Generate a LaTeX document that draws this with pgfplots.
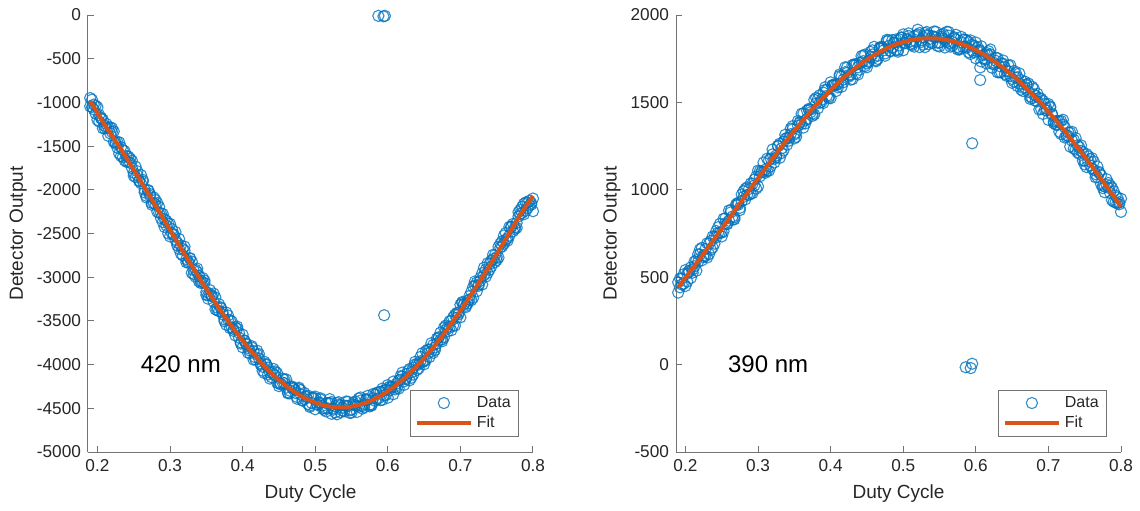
\documentclass[border=0pt]{standalone}
\usepackage{pgfplots}
\pgfplotsset{compat=1.18}
\usepackage{pgfplotstable}
\usepackage{fontspec}
\setmainfont{Liberation Sans}
\definecolor{mblue}{rgb}{0,0.447,0.741}
\definecolor{morange}{rgb}{0.85,0.325,0.098}
\definecolor{txt}{rgb}{0.15,0.15,0.15}
\definecolor{axc}{rgb}{0.45,0.45,0.45}

\pgfplotstableread{
x a b
0.190 -950 -1045
0.195 -1080 -1025
0.200 -1055 -1200
0.205 -1185 -1175
0.210 -1297 -1267
0.215 -1288 -1383
0.220 -1294 -1339
0.225 -1457 -1472
0.230 -1456 -1586
0.235 -1625 -1545
0.240 -1615 -1680
0.245 -1642 -1692
0.250 -1805 -1840
0.255 -1833 -1788
0.260 -1831 -1926
0.265 -2000 -2030
0.270 -2003 -2013
0.275 -2172 -2152
0.280 -2166 -2116
0.285 -2195 -2265
0.290 -2275 -2370
0.295 -2410 -2355
0.300 -2389 -2534
0.305 -2518 -2508
0.310 -2637 -2607
0.315 -2636 -2731
0.320 -2650 -2695
0.325 -2818 -2833
0.330 -2821 -2951
0.335 -2993 -2913
0.340 -2984 -3049
0.345 -3009 -3059
0.350 -3169 -3204
0.355 -3193 -3148
0.360 -3186 -3281
0.365 -3348 -3378
0.370 -3345 -3355
0.375 -3504 -3484
0.380 -3488 -3438
0.385 -3505 -3575
0.390 -3572 -3667
0.395 -3692 -3637
0.400 -3657 -3802
0.405 -3769 -3759
0.410 -3870 -3840
0.415 -3848 -3943
0.420 -3841 -3886
0.425 -3987 -4002
0.430 -3967 -4097
0.435 -4114 -4034
0.440 -4080 -4145
0.445 -4078 -4128
0.450 -4211 -4246
0.455 -4205 -4160
0.460 -4169 -4264
0.465 -4299 -4329
0.470 -4264 -4274
0.475 -4391 -4371
0.480 -4342 -4292
0.485 -4324 -4394
0.490 -4355 -4450
0.495 -4438 -4383
0.500 -4366 -4511
0.505 -4439 -4429
0.510 -4502 -4472
0.515 -4441 -4536
0.520 -4395 -4440
0.525 -4500 -4515
0.530 -4439 -4569
0.535 -4545 -4465
0.540 -4469 -4534
0.545 -4425 -4475
0.550 -4515 -4550
0.555 -4466 -4421
0.560 -4387 -4482
0.565 -4474 -4504
0.570 -4396 -4406
0.575 -4478 -4458
0.580 -4385 -4335
0.585 -4324 -4394
0.590 -4312 -4407
0.595 -4351 -4296
0.600 -4234 -4379
0.605 -4264 -4254
0.610 -4284 -4254
0.615 -4180 -4275
0.620 -4091 -4136
0.625 -4153 -4168
0.630 -4050 -4180
0.635 -4114 -4034
0.640 -3997 -4062
0.645 -3912 -3962
0.650 -3961 -3996
0.655 -3873 -3828
0.660 -3755 -3850
0.665 -3804 -3834
0.670 -3687 -3697
0.675 -3732 -3712
0.680 -3602 -3552
0.685 -3505 -3575
0.690 -3458 -3553
0.695 -3464 -3409
0.700 -3315 -3460
0.705 -3313 -3303
0.710 -3301 -3271
0.715 -3168 -3263
0.720 -3049 -3094
0.725 -3084 -3099
0.730 -2954 -3084
0.735 -2993 -2913
0.740 -2851 -2916
0.745 -2743 -2793
0.750 -2770 -2805
0.755 -2661 -2616
0.760 -2522 -2617
0.765 -2553 -2583
0.770 -2419 -2429
0.775 -2450 -2430
0.780 -2305 -2255
0.785 -2195 -2265
0.790 -2145 -2240
0.795 -2180 -2125
0.800 -2100 -2245
}\leftdata

\pgfplotstableread{
x c d
0.1925 -968 -1053
0.1975 -1128 -1038
0.2025 -1145 -1220
0.2075 -1296 -1196
0.2125 -1248 -1293
0.2175 -1354 -1284
0.2225 -1331 -1451
0.2275 -1519 -1454
0.2325 -1513 -1613
0.2375 -1663 -1558
0.2425 -1619 -1679
0.2475 -1751 -1666
0.2525 -1734 -1854
0.2575 -1902 -1897
0.2625 -1906 -1886
0.2675 -2089 -2069
0.2725 -2068 -2048
0.2775 -2087 -2152
0.2825 -2251 -2151
0.2875 -2270 -2325
0.2925 -2425 -2335
0.2975 -2385 -2500
0.3025 -2499 -2449
0.3075 -2483 -2573
0.3125 -2677 -2562
0.3175 -2676 -2751
0.3225 -2829 -2794
0.3275 -2787 -2782
0.3325 -2920 -2965
0.3375 -2901 -2941
0.3425 -3067 -3042
0.3475 -3067 -3037
0.3525 -3246 -3206
0.3575 -3220 -3210
0.3625 -3232 -3367
0.3675 -3389 -3309
0.3725 -3400 -3425
0.3775 -3544 -3404
0.3825 -3492 -3582
0.3875 -3594 -3614
0.3925 -3565 -3590
0.3975 -3745 -3760
0.4025 -3728 -3723
0.4075 -3865 -3810
0.4125 -3804 -3789
0.4175 -3917 -3942
0.4225 -3879 -3929
0.4275 -4025 -4070
0.4325 -4003 -3993
0.4375 -4160 -4090
0.4425 -4109 -4049
0.4475 -4097 -4207
0.4525 -4228 -4218
0.4575 -4212 -4172
0.4625 -4329 -4319
0.4675 -4249 -4259
0.4725 -4323 -4290
0.4775 -4264 -4279
0.4825 -4413 -4408
0.4875 -4365 -4370
0.4925 -4469 -4484
0.4975 -4377 -4382
0.5025 -4458 -4453
0.5075 -4386 -4400
0.5125 -4497 -4517
0.5175 -4441 -4501
0.5225 -4563 -4428
0.5275 -4477 -4547
0.5325 -4430 -4460
0.5375 -4525 -4495
0.5425 -4472 -4422
0.5475 -4553 -4523
0.5525 -4436 -4456
0.5575 -4472 -4542
0.5625 -4376 -4411
0.5675 -4488 -4453
0.5725 -4402 -4357
0.5775 -4469 -4459
0.5825 -4340 -4415
0.5875 -4383 -4313
0.5925 -4274 -4404
0.5975 -4348 -4288
0.6025 -4254 -4294
0.6075 -4339 -4194
0.6125 -4217 -4267
0.6175 -4133 -4173
0.6225 -4192 -4232
0.6275 -4104 -4074
0.6325 -4150 -4090
0.6375 -3998 -3968
0.6425 -4000 -4045
0.6475 -3869 -3974
0.6525 -3947 -3847
0.6575 -3829 -3914
0.6625 -3865 -3775
0.6675 -3703 -3758
0.6725 -3715 -3635
0.6775 -3575 -3685
0.6825 -3619 -3569
0.6875 -3497 -3607
0.6925 -3554 -3429
0.6975 -3405 -3425
0.7025 -3294 -3284
0.7075 -3327 -3342
0.7125 -3215 -3255
0.7175 -3236 -3111
0.7225 -3062 -3162
0.7275 -3042 -3007
0.7325 -2891 -2976
0.7375 -2950 -2840
0.7425 -2812 -2877
0.7475 -2829 -2749
0.7525 -2651 -2776
0.7575 -2647 -2587
0.7625 -2493 -2573
0.7675 -2524 -2424
0.7725 -2390 -2475
0.7775 -2435 -2380
0.7825 -2275 -2230
0.7875 -2160 -2280
0.7925 -2210 -2145
0.7975 -2150 -2170
}\leftdatab

\pgfplotstableread{
x y
0.19 -985
0.20 -1120
0.21 -1257
0.22 -1379
0.23 -1506
0.24 -1635
0.25 -1770
0.26 -1906
0.27 -2043
0.28 -2181
0.29 -2320
0.30 -2459
0.31 -2597
0.32 -2735
0.33 -2871
0.34 -3004
0.35 -3134
0.36 -3261
0.37 -3385
0.38 -3503
0.39 -3617
0.40 -3727
0.41 -3830
0.42 -3926
0.43 -4017
0.44 -4100
0.45 -4176
0.46 -4244
0.47 -4304
0.48 -4357
0.49 -4400
0.50 -4436
0.51 -4462
0.52 -4480
0.53 -4489
0.54 -4489
0.55 -4480
0.56 -4462
0.57 -4436
0.58 -4400
0.59 -4357
0.60 -4304
0.61 -4244
0.62 -4176
0.63 -4100
0.64 -4017
0.65 -3926
0.66 -3830
0.67 -3727
0.68 -3617
0.69 -3503
0.70 -3385
0.71 -3261
0.72 -3134
0.73 -3004
0.74 -2871
0.75 -2735
0.76 -2597
0.77 -2459
0.78 -2320
0.79 -2190
0.80 -2070
}\leftfit

\pgfplotstableread{
x a b
0.190 471 412
0.195 458 492
0.200 541 450
0.205 530 536
0.210 526 545
0.215 597 537
0.220 659 631
0.225 625 615
0.230 694 613
0.235 657 707
0.240 732 692
0.245 786 754
0.250 755 733
0.255 809 837
0.260 882 823
0.265 848 830
0.270 918 912
0.275 884 897
0.280 960 992
0.285 1014 971
0.290 1037 978
0.295 1025 1059
0.300 1110 1019
0.305 1100 1106
0.310 1097 1116
0.315 1169 1109
0.320 1231 1203
0.325 1196 1186
0.330 1264 1183
0.335 1225 1275
0.340 1298 1258
0.345 1350 1318
0.350 1316 1294
0.355 1366 1394
0.360 1435 1376
0.365 1397 1379
0.370 1463 1457
0.375 1423 1436
0.380 1494 1526
0.385 1541 1498
0.390 1556 1497
0.395 1538 1572
0.400 1615 1524
0.405 1597 1603
0.410 1586 1605
0.415 1649 1589
0.420 1701 1673
0.425 1657 1647
0.430 1714 1633
0.435 1665 1715
0.440 1727 1687
0.445 1768 1736
0.450 1723 1701
0.455 1761 1789
0.460 1818 1759
0.465 1767 1749
0.470 1819 1813
0.475 1767 1780
0.480 1824 1856
0.485 1857 1814
0.490 1860 1801
0.495 1826 1860
0.500 1889 1798
0.505 1856 1862
0.510 1831 1850
0.515 1879 1819
0.520 1916 1888
0.525 1856 1846
0.530 1897 1816
0.535 1833 1883
0.540 1879 1839
0.545 1904 1872
0.550 1842 1820
0.555 1864 1892
0.560 1904 1845
0.565 1837 1819
0.570 1873 1867
0.575 1803 1816
0.580 1843 1875
0.585 1860 1817
0.590 1846 1787
0.595 1796 1830
0.600 1843 1752
0.605 1794 1800
0.610 1751 1770
0.615 1782 1722
0.620 1803 1775
0.625 1727 1717
0.630 1753 1672
0.635 1672 1722
0.640 1702 1662
0.645 1711 1679
0.650 1634 1612
0.655 1641 1669
0.660 1666 1607
0.665 1583 1565
0.670 1604 1598
0.675 1520 1533
0.680 1546 1578
0.685 1549 1506
0.690 1521 1462
0.695 1458 1492
0.700 1491 1400
0.705 1429 1435
0.710 1373 1392
0.715 1392 1332
0.720 1401 1373
0.725 1313 1303
0.730 1328 1247
0.735 1236 1286
0.740 1255 1215
0.745 1254 1222
0.750 1167 1145
0.755 1164 1192
0.760 1181 1122
0.765 1089 1071
0.770 1102 1096
0.775 1010 1023
0.780 1029 1061
0.785 1025 982
0.790 991 932
0.795 922 956
0.800 949 874
}\rightdata

\pgfplotstableread{
x c d
0.1925 493 442
0.1975 463 517
0.2025 520 475
0.2075 496 556
0.2125 589 562
0.2175 589 631
0.2225 668 596
0.2275 622 661
0.2325 692 632
0.2375 670 733
0.2425 764 728
0.2475 754 805
0.2525 834 762
0.2575 803 806
0.2625 871 883
0.2675 831 843
0.2725 914 926
0.2775 973 934
0.2825 945 1005
0.2875 1004 971
0.2925 981 1035
0.2975 1076 1007
0.3025 1077 1107
0.3075 1156 1102
0.3125 1109 1178
0.3175 1179 1134
0.3225 1156 1177
0.3275 1249 1252
0.3325 1237 1210
0.3375 1315 1291
0.3425 1281 1296
0.3475 1346 1364
0.3525 1303 1327
0.3575 1382 1388
0.3625 1437 1356
0.3675 1405 1453
0.3725 1459 1444
0.3775 1431 1515
0.3825 1520 1466
0.3875 1515 1503
0.3925 1587 1572
0.3975 1534 1525
0.4025 1596 1599
0.4075 1565 1598
0.4125 1651 1660
0.4175 1630 1615
0.4225 1699 1669
0.4275 1657 1630
0.4325 1712 1718
0.4375 1659 1701
0.4425 1729 1765
0.4475 1774 1708
0.4525 1731 1737
0.4575 1774 1798
0.4625 1735 1741
0.4675 1813 1807
0.4725 1797 1812
0.4775 1858 1849
0.4825 1792 1795
0.4875 1843 1840
0.4925 1799 1790
0.4975 1872 1869
0.5025 1839 1842
0.5075 1895 1880
0.5125 1840 1828
0.5175 1883 1847
0.5225 1816 1897
0.5275 1872 1830
0.5325 1903 1885
0.5375 1846 1864
0.5425 1876 1906
0.5475 1823 1841
0.5525 1887 1875
0.5575 1856 1814
0.5625 1903 1882
0.5675 1824 1845
0.5725 1860 1887
0.5775 1802 1808
0.5825 1860 1815
0.5875 1813 1855
0.5925 1855 1777
0.5975 1786 1822
0.6025 1815 1791
0.6075 1734 1821
0.6125 1776 1746
0.6175 1793 1769
0.6225 1722 1698
0.6275 1738 1756
0.6325 1672 1708
0.6375 1722 1740
0.6425 1679 1652
0.6475 1713 1650
0.6525 1620 1680
0.6575 1644 1593
0.6625 1573 1627
0.6675 1619 1586
0.6725 1560 1608
0.6775 1590 1524
0.6825 1508 1538
0.6875 1525 1459
0.6925 1434 1509
0.6975 1465 1453
0.7025 1471 1477
0.7075 1390 1381
0.7125 1395 1371
0.7175 1319 1394
0.7225 1359 1299
0.7275 1307 1328
0.7325 1332 1281
0.7375 1230 1296
0.7425 1245 1206
0.7475 1167 1215
0.7525 1205 1130
0.7575 1139 1175
0.7625 1162 1114
0.7675 1073 1133
0.7725 1084 1033
0.7775 986 1019
0.7825 1012 1039
0.7875 1013 941
0.7925 928 967
0.7975 929 917
}\rightdatab

\pgfplotstableread{
x y
0.19 443
0.20 497
0.21 551
0.22 606
0.23 663
0.24 720
0.25 777
0.26 835
0.27 893
0.28 951
0.29 1009
0.30 1066
0.31 1122
0.32 1178
0.33 1233
0.34 1286
0.35 1338
0.36 1388
0.37 1438
0.38 1485
0.39 1528
0.40 1571
0.41 1611
0.42 1648
0.43 1683
0.44 1715
0.45 1745
0.46 1771
0.47 1794
0.48 1815
0.49 1832
0.50 1845
0.51 1856
0.52 1863
0.53 1866
0.54 1867
0.55 1864
0.56 1857
0.57 1848
0.58 1834
0.59 1818
0.60 1799
0.61 1776
0.62 1750
0.63 1722
0.64 1690
0.65 1656
0.66 1619
0.67 1579
0.68 1537
0.69 1493
0.70 1447
0.71 1398
0.72 1348
0.73 1297
0.74 1243
0.75 1189
0.76 1134
0.77 1077
0.78 1020
0.79 963
0.80 905
}\rightfit

\pgfplotsset{
  boxsize/.style={scale only axis, width=222.5pt, height=218.5pt,
    xmin=0.187, xmax=0.8, clip=false},
  mystyle/.style={
    boxsize,
    axis x line*=bottom, axis y line*=left,
    axis line style={axc, line width=0.5pt, -},
    tick style={axc, line width=0.5pt},
    tick align=inside,
    major tick length=2.8pt,
    xtick={0.2,0.3,0.4,0.5,0.6,0.7,0.8},
    xticklabels={0.2,0.3,0.4,0.5,0.6,0.7,0.8},
    ticklabel style={font=\fontsize{8.6}{10}\selectfont, text=txt},
    label style={font=\fontsize{9.5}{11}\selectfont, text=txt},
    xlabel={Duty Cycle}, ylabel={Detector Output},
    xlabel style={at={(axis description cs:0.5,-0.096)}, anchor=center},
  },
  overlay/.style={
    boxsize, hide axis,
    legend cell align=left,
    legend style={at={(axis description cs:0.969,0.034)}, anchor=south east,
      draw=axc, line width=0.5pt, font=\fontsize{8}{9}\selectfont, text=txt,
      inner xsep=2pt, inner ysep=1pt, row sep=-1pt},
  },
  datastyle/.style={only marks, mark=o, mark size=2.8pt, draw=mblue, line width=0.55pt,
    mark options={draw=mblue, draw opacity=0.8},
    legend image code/.code={\draw[##1] plot coordinates {(13.5pt,0pt)};}},
  fitstyle/.style={no marks, morange, line width=2pt, smooth,
    legend image code/.code={\draw[##1] (0pt,0pt) -- (27pt,0pt);}},
}

\begin{document}
\begin{tikzpicture}
\useasboundingbox (-44pt,-29pt) rectangle (526pt,226pt);
\begin{axis}[mystyle,
  ymin=-5000, ymax=0,
  ytick={-5000,-4500,-4000,-3500,-3000,-2500,-2000,-1500,-1000,-500,0},
  yticklabels={-5000,-4500,-4000,-3500,-3000,-2500,-2000,-1500,-1000,-500,0},
  ylabel style={at={(axis description cs:-0.157,0.5)}, anchor=center},
]
\addplot[datastyle] table[x=x,y=a] {\leftdata};
\addplot[datastyle] table[x=x,y=b] {\leftdata};
\addplot[datastyle] table[x=x,y=c] {\leftdatab};
\addplot[datastyle] table[x=x,y=d] {\leftdatab};
\addplot[datastyle] coordinates {(0.587,-10) (0.594,-15) (0.596,-10) (0.595,-3435)};
\node[anchor=west, font=\fontsize{12}{14}\selectfont, text=black] at (axis cs:0.25,-4000) {420 nm};
\end{axis}
\begin{axis}[overlay, ymin=-5000, ymax=0]
\addlegendimage{datastyle}
\addlegendentry{Data}
\addplot[fitstyle] table[x=x,y=y] {\leftfit};
\addlegendentry{Fit}
\end{axis}
\begin{axis}[mystyle, at={(294pt,0pt)}, anchor=south west,
  ymin=-500, ymax=2000,
  ytick={-500,0,500,1000,1500,2000},
  yticklabels={-500,0,500,1000,1500,2000},
  ylabel style={at={(axis description cs:-0.144,0.5)}, anchor=center},
]
\addplot[datastyle] table[x=x,y=a] {\rightdata};
\addplot[datastyle] table[x=x,y=b] {\rightdata};
\addplot[datastyle] table[x=x,y=c] {\rightdatab};
\addplot[datastyle] table[x=x,y=d] {\rightdatab};
\addplot[datastyle] coordinates {(0.586,-15) (0.595,5) (0.593,-20) (0.595,1266) (0.606,1628) (0.606,1700)};
\node[anchor=west, font=\fontsize{12}{14}\selectfont, text=black] at (axis cs:0.249,0) {390 nm};
\end{axis}
\begin{axis}[overlay, at={(294pt,0pt)}, anchor=south west, ymin=-500, ymax=2000]
\addlegendimage{datastyle}
\addlegendentry{Data}
\addplot[fitstyle] table[x=x,y=y] {\rightfit};
\addlegendentry{Fit}
\end{axis}
\end{tikzpicture}
\end{document}
